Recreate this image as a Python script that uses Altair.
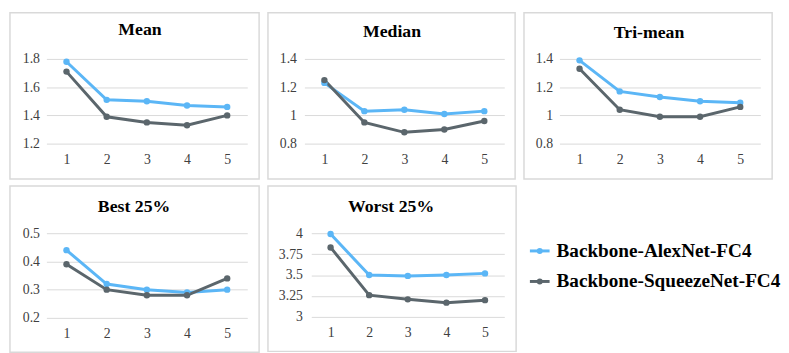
import altair as alt
import pandas as pd

# ---------------- data ----------------
x_labels = ["1", "2", "3", "4", "5"]
series_names = ["Backbone-AlexNet-FC4", "Backbone-SqueezeNet-FC4"]
series_colors = ["#5BB6F6", "#5B666C"]

mean_alex = [1.78, 1.51, 1.50, 1.47, 1.46]
mean_squeeze = [1.71, 1.39, 1.35, 1.33, 1.40]
median_alex = [1.23, 1.03, 1.04, 1.01, 1.03]
median_squeeze = [1.25, 0.95, 0.88, 0.90, 0.96]
trimean_alex = [1.39, 1.17, 1.13, 1.10, 1.09]
trimean_squeeze = [1.33, 1.04, 0.99, 0.99, 1.06]
best_alex = [0.44, 0.32, 0.30, 0.29, 0.30]
best_squeeze = [0.39, 0.30, 0.28, 0.28, 0.34]
worst_alex = [3.99, 3.50, 3.49, 3.50, 3.52]
worst_squeeze = [3.83, 3.26, 3.21, 3.17, 3.20]

mean_ticks = [1.2, 1.4, 1.6, 1.8]
median_ticks = [0.8, 1.0, 1.2, 1.4]
trimean_ticks = [0.8, 1.0, 1.2, 1.4]
best_ticks = [0.2, 0.3, 0.4, 0.5]
worst_ticks = [3.0, 3.25, 3.5, 3.75, 4.0]

FONT = "Liberation Serif"
GRID = "#D9D9D9"
BOX = "#D9D9D9"
LABEL = "#404040"


def make_panel(title, alex, squeeze, ticks, g):
    df = pd.DataFrame({
        "x": x_labels * 2,
        "value": alex + squeeze,
        "series": [series_names[0]] * len(alex) + [series_names[1]] * len(squeeze),
    })
    tdf = pd.DataFrame({"label": [title]})
    xenc = alt.X("x:O", scale=alt.Scale(type="point", padding=0.5),
                 axis=alt.Axis(title=None, labelAngle=0, domain=False, ticks=False,
                               tickSize=0, labelPadding=9, grid=False,
                               labelFont=FONT, labelFontSize=14, labelColor=LABEL))
    yenc = alt.Y("value:Q",
                 scale=alt.Scale(domain=[ticks[0], ticks[-1]], nice=False, zero=False),
                 axis=alt.Axis(title=None, values=ticks, labelExpr="'' + datum.value",
                               domain=False, ticks=False, tickSize=0,
                               labelPadding=g["lp"], grid=True, gridColor=GRID, gridWidth=1,
                               labelFont=FONT, labelFontSize=14, labelColor=LABEL))
    color = alt.Color("series:N", scale=alt.Scale(domain=series_names, range=series_colors),
                      legend=None)
    box = alt.Chart(tdf).mark_rect(fillOpacity=0, stroke=BOX, strokeWidth=1.5).encode(
        x=alt.value(-g["left"]), x2=alt.value(g["W"] + g["right"]),
        y=alt.value(-g["top"]), y2=alt.value(g["H"] + g["bottom"]))
    ttl = alt.Chart(tdf).mark_text(font=FONT, fontSize=18, fontWeight="bold",
                                   baseline="alphabetic", align="center",
                                   color="black").encode(
        text="label:N", x=alt.value(g["tx"]), y=alt.value(g["ty"]))
    line = alt.Chart(df).mark_line(strokeWidth=3).encode(x=xenc, y=yenc, color=color)
    pts = alt.Chart(df).mark_circle(size=42, opacity=1).encode(x=xenc, y=yenc, color=color)
    return alt.layer(box, ttl, line, pts).properties(width=g["W"], height=g["H"])


geo_mean = dict(left=37, W=204, right=12, top=47, H=86, bottom=36, tx=95, ty=-24, lp=7)
geo_median = dict(left=37, W=203, right=11, top=47, H=86, bottom=36, tx=89, ty=-22, lp=8)
geo_tri = dict(left=36, W=204, right=12, top=47, H=86, bottom=36, tx=91, ty=-21, lp=7)
geo_best = dict(left=37, W=204, right=12, top=48, H=86, bottom=35, tx=89, ty=-22, lp=7)
geo_worst = dict(left=44, W=196, right=12, top=48, H=85, bottom=35, tx=81, ty=-22, lp=9)

p_mean = make_panel("Mean", mean_alex, mean_squeeze, mean_ticks, geo_mean)
p_median = make_panel("Median", median_alex, median_squeeze, median_ticks, geo_median)
p_tri = make_panel("Tri-mean", trimean_alex, trimean_squeeze, trimean_ticks, geo_tri)
p_best = make_panel("Best 25%", best_alex, best_squeeze, best_ticks, geo_best)
p_worst = make_panel("Worst 25%", worst_alex, worst_squeeze, worst_ticks, geo_worst)

# ---------------- legend (drawn as a small chart) ----------------
# its view top lines up with the plot tops of the bottom row
leg_df = pd.DataFrame({"series": series_names})
ly = alt.Y("series:N", scale=alt.Scale(type="point", domain=series_names, range=[18, 49],
                                       padding=0), axis=None)
lc = alt.Color("series:N", scale=alt.Scale(domain=series_names, range=series_colors),
               legend=None)
l_rule = alt.Chart(leg_df).mark_rule(strokeWidth=3).encode(
    x=alt.value(6), x2=alt.value(26), y=ly, color=lc)
l_dot = alt.Chart(leg_df).mark_circle(size=36, opacity=1).encode(
    x=alt.value(16), y=ly, color=lc)
l_txt = alt.Chart(leg_df).mark_text(align="left", baseline="middle", font=FONT,
                                    fontSize=19.5, fontWeight="bold", color="black").encode(
    x=alt.value(33), y=ly, text="series:N")
legend = alt.layer(l_rule, l_dot, l_txt).properties(width=230, height=70)

top = alt.hconcat(p_mean, p_median, p_tri, spacing=5)
bottom = alt.hconcat(p_best, p_worst, legend, spacing=5)

chart = alt.vconcat(top, bottom, spacing=3).properties(
    padding={"left": 0, "top": 0, "right": 0, "bottom": 0}
).configure(font=FONT).configure_view(
    stroke="transparent"
)

chart.save("out.html", embed_options={"renderer": "svg", "actions": False})
